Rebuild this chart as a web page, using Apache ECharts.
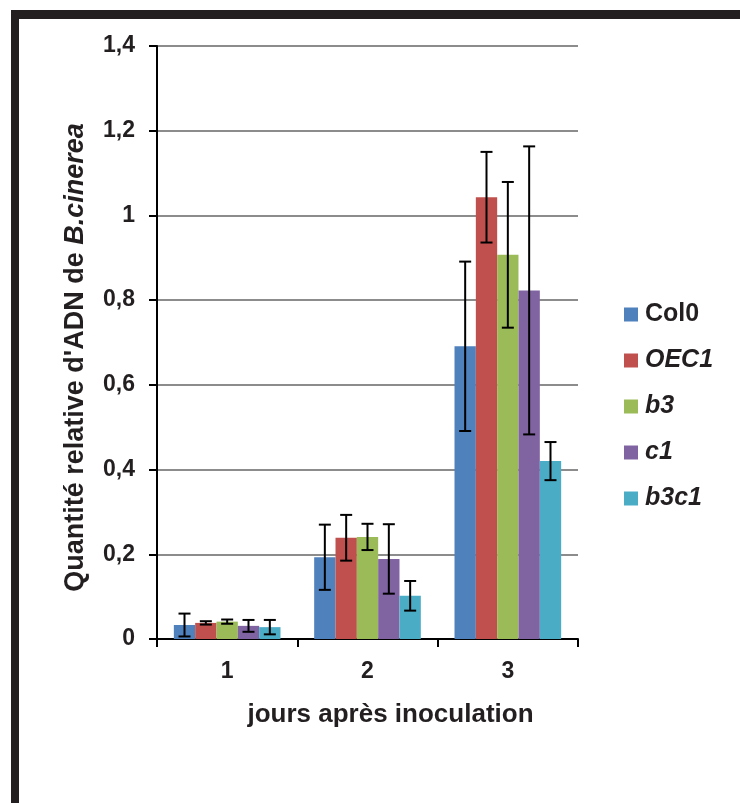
<!DOCTYPE html>
<html>
<head>
<meta charset="utf-8">
<script src="https://cdn.jsdelivr.net/npm/echarts@6/dist/echarts.min.js"></script>
<style>
  html, body { margin: 0; padding: 0; background: #fff; }
  #chart { width: 740px; height: 803px; }
</style>
</head>
<body>
<div id="chart"></div>
<script>
// jours après inoculation
const days = ['1', '2', '3'];
const lines = ['Col0', 'OEC1', 'b3', 'c1', 'b3c1'];
const colors = ['#4F81BD', '#C0504D', '#9BBB59', '#8064A2', '#4BACC6'];

// moyennes par lignée (jour 1, 2, 3)
const col0 = [0.033, 0.193, 0.691];
const oec1 = [0.038, 0.239, 1.043];
const b3 = [0.041, 0.241, 0.907];
const c1 = [0.031, 0.189, 0.823];
const b3c1 = [0.028, 0.102, 0.420];

// écarts (barres d'erreur)
const col0Err = [0.027, 0.077, 0.200];
const oec1Err = [0.004, 0.054, 0.107];
const b3Err = [0.005, 0.031, 0.172];
const c1Err = [0.014, 0.082, 0.340];
const b3c1Err = [0.017, 0.035, 0.045];

const means = [col0, oec1, b3, c1, b3c1];
const errs = [col0Err, oec1Err, b3Err, c1Err, b3c1Err];
const italicNames = ['OEC1', 'b3', 'c1', 'b3c1'];

const GAP = 0.24; // barCategoryGap
const errData = [];
means.forEach((serie, k) => {
  serie.forEach((v, i) => {
    errData.push([i, v - errs[k][i], v + errs[k][i], k]);
  });
});

const chart = echarts.init(document.getElementById('chart'));
const fontFam = '"Liberation Sans", Arial, sans-serif';
const ink = '#231f20';

const option = {
  backgroundColor: '#fff',
  animation: false,
  textStyle: { fontFamily: fontFam },
  grid: { left: 157, right: 162, top: 46, bottom: 164 },
  legend: {
    orient: 'vertical',
    left: 619,
    top: 297,
    icon: 'rect',
    itemWidth: 14,
    itemHeight: 14,
    itemGap: 21,
    textStyle: { fontSize: 25, fontWeight: 'bold', color: ink, fontFamily: fontFam, padding: [0, 0, 0, 2] },
    data: lines.map(n => ({
      name: n,
      textStyle: { fontStyle: italicNames.includes(n) ? 'italic' : 'normal' }
    }))
  },
  xAxis: {
    type: 'category',
    data: days,
    name: 'jours après inoculation',
    nameLocation: 'middle',
    nameGap: 63,
    nameTextStyle: { fontSize: 26, fontWeight: 'bold', color: ink, padding: [0, 0, 0, 46] },
    axisLine: { lineStyle: { color: '#000', width: 2 } },
    axisTick: { show: true, length: 8, lineStyle: { color: '#000', width: 2 } },
    axisLabel: { fontSize: 23, fontWeight: 'bold', color: ink, margin: 21 }
  },
  yAxis: {
    type: 'value',
    min: 0,
    max: 1.4,
    interval: 0.2,
    name: 'Quantité relative d\'ADN de {i|B.cinerea}',
    nameLocation: 'middle',
    nameGap: 68,
    nameRotate: 90,
    nameTextStyle: {
      fontSize: 27, fontWeight: 'bold', color: ink, padding: [0, 30, 0, 0],
      rich: { i: { fontSize: 27, fontWeight: 'bold', fontStyle: 'italic', color: ink } }
    },
    axisLine: { show: true, lineStyle: { color: '#000', width: 2 } },
    axisTick: { show: true, length: 8, lineStyle: { color: '#000', width: 2 } },
    axisLabel: {
      fontSize: 23, fontWeight: 'bold', color: ink, margin: 22,
      formatter: v => String(Math.round(v * 10) / 10).replace('.', ',')
    },
    splitLine: { lineStyle: { color: '#8c8c8c', width: 2 } }
  },
  series: lines.map((name, k) => ({
    name: name,
    type: 'bar',
    data: means[k],
    barGap: '0%',
    barCategoryGap: (GAP * 100) + '%',
    itemStyle: { color: colors[k] }
  })).concat([{
    type: 'custom',
    name: 'err',
    z: 10,
    data: errData,
    encode: { x: 0, y: [1, 2] },
    renderItem: function (params, api) {
      const cat = api.value(0);
      const k = api.value(3);
      const bandW = api.size([1, 0])[0];
      const barW = bandW * (1 - GAP) / lines.length;
      const lo = api.coord([cat, api.value(1)]);
      const hi = api.coord([cat, api.value(2)]);
      const x = lo[0] + (k - (lines.length - 1) / 2) * barW;
      const cap = 6;
      const style = { stroke: '#000', lineWidth: 2 };
      return {
        type: 'group',
        children: [
          { type: 'line', shape: { x1: x, y1: hi[1], x2: x, y2: lo[1] }, style: style },
          { type: 'line', shape: { x1: x - cap, y1: hi[1], x2: x + cap, y2: hi[1] }, style: style },
          { type: 'line', shape: { x1: x - cap, y1: lo[1], x2: x + cap, y2: lo[1] }, style: style }
        ]
      };
    }
  }]),
  graphic: [
    { type: 'rect', shape: { x: 11, y: 10, width: 740, height: 9 }, style: { fill: ink } },
    { type: 'rect', shape: { x: 11, y: 10, width: 8, height: 800 }, style: { fill: ink } }
  ]
};

chart.setOption(option);
</script>
</body>
</html>
